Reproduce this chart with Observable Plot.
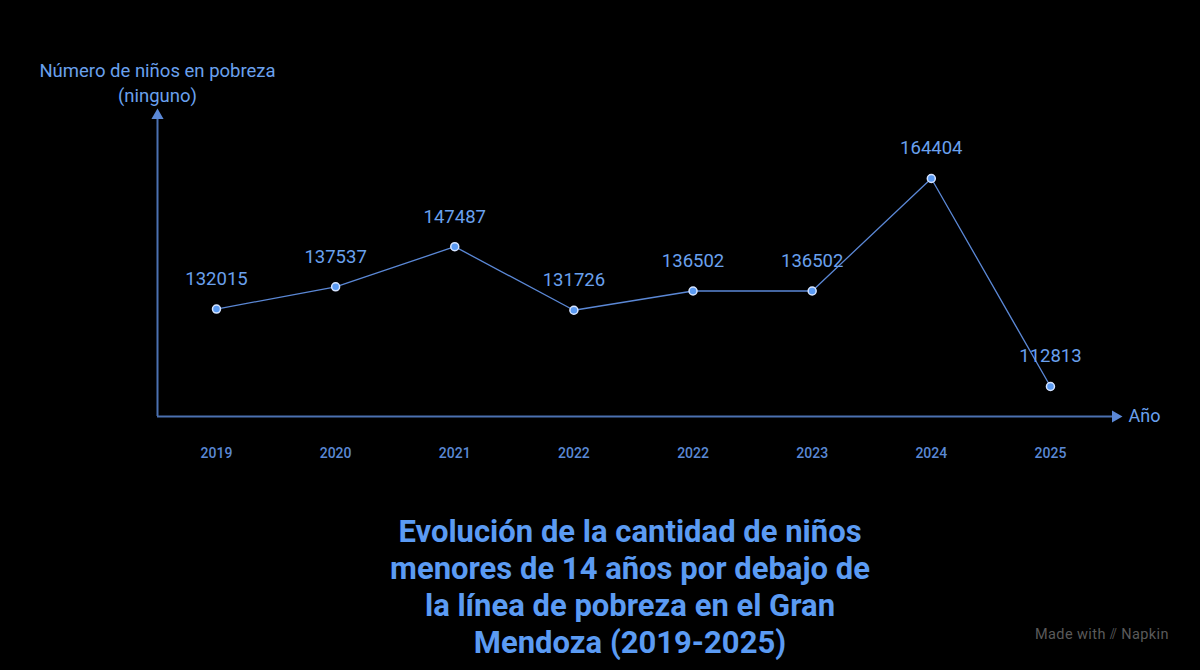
<!DOCTYPE html>
<html>
<head>
<meta charset="utf-8">
<script src="https://cdn.jsdelivr.net/npm/d3@7"></script>
<script src="https://cdn.jsdelivr.net/npm/@observablehq/plot@0.6"></script>
<style>
  html, body { margin: 0; padding: 0; background: #000; }
  body { width: 1200px; height: 670px; position: relative; overflow: hidden; font-family: Roboto, "Noto Sans", sans-serif; }
  #chart svg { display: block; }
  #title { text-align: center; color: #5b9bf3; font-weight: 700; font-size: 31px; line-height: 37px; margin-top: 33px; width: 700px; margin-left: 280px; }
  #credit { position: absolute; left: 1035px; top: 626px; color: #5a5a5a; font-size: 14.5px; letter-spacing: 0.4px; }
</style>
</head>
<body>
<div id="chart"></div>
<div id="title">Evolución de la cantidad de niños<br>menores de 14 años por debajo de<br>la línea de pobreza en el Gran<br>Mendoza (2019-2025)</div>
<div id="credit">Made with ⫽ Napkin</div>
<script>
const years = ["2019", "2020", "2021", "2022", "2022", "2023", "2024", "2025"];
const values = [132015, 137537, 147487, 131726, 136502, 136502, 164404, 112813];
const xDomain = [-0.495, 7.546];
const yDomain = [105373, 180025];

const data = years.map((year, i) => ({ i, year, value: values[i] }));
const lineColor = "#5b88d6";
const axisColor = "#4b70b0";
const textColor = "#6aa1ee";

const chart = Plot.plot({
  width: 1200,
  height: 480,
  marginLeft: 157,
  marginRight: 85,
  marginTop: 115,
  marginBottom: 64,
  style: { background: "#000", fontFamily: "Roboto, sans-serif", overflow: "visible" },
  x: { domain: xDomain, axis: null },
  y: { domain: yDomain, axis: null },
  marks: [
    Plot.ruleY([yDomain[0]], { x1: xDomain[0], x2: xDomain[1], stroke: axisColor, strokeWidth: 2 }),
    Plot.ruleX([xDomain[0]], { y1: yDomain[0], y2: yDomain[1], stroke: axisColor, strokeWidth: 2 }),
    Plot.dot([0], { x: xDomain[1], y: yDomain[0], symbol: "triangle", r: 4.5, rotate: 90, fill: lineColor, stroke: "none" }),
    Plot.dot([0], { x: xDomain[0], y: yDomain[1], symbol: "triangle", r: 4.5, fill: lineColor, stroke: "none" }),
    Plot.axisX(d3.range(years.length), { tickFormat: i => years[i], tickSize: 0, tickPadding: 32, fontSize: 14, fontWeight: 500, fill: "#5a88d4", anchor: "bottom", label: null }),
    Plot.text(["Número de niños en pobreza\n(ninguno)"], { x: xDomain[0], y: yDomain[1], dy: -14, lineAnchor: "bottom", lineHeight: 1.3, fontSize: 18.5, fill: textColor, textAnchor: "middle" }),
    Plot.text(["Año"], { x: xDomain[1], y: yDomain[0], dx: 13, textAnchor: "start", fontSize: 18, fill: textColor }),
    Plot.line(data, { x: "i", y: "value", stroke: lineColor, strokeWidth: 1.3 }),
    Plot.dot(data, { x: "i", y: "value", r: 4, fill: "#5b9bf3", stroke: "#d6e4ff", strokeWidth: 1.5 }),
    Plot.text(data, { x: "i", y: "value", text: d => String(d.value), dy: -30, fontSize: 18.5, fill: textColor })
  ]
});
document.getElementById("chart").appendChild(chart);
</script>
</body>
</html>
